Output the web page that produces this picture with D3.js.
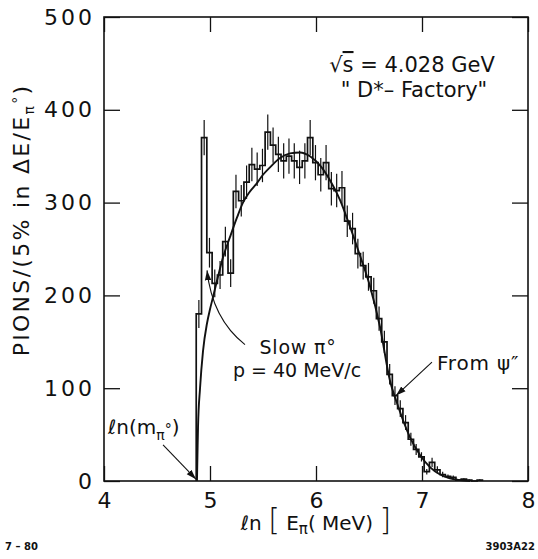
<!DOCTYPE html>
<html lang="en">
<head>
	<meta charset="UTF-8">
	<title>Pion spectrum</title>
	<script src="https://cdn.jsdelivr.net/npm/d3@7"></script>
	<style>
		html, body{
			margin: 0;
			padding: 0;
			background: #fff;
		}
		svg{
			display: block;
			font-family: "DejaVu Sans", sans-serif;
		}
	</style>
</head>
<body>
	<div class="chart"></div>
	<script>
		// histogram: bin centres in ln(E), counts and errors
		var binCenters = [4.895, 4.945, 4.995, 5.045, 5.095, 5.145, 5.195, 5.245, 5.295, 5.345,
			5.395, 5.445, 5.495, 5.545, 5.595, 5.645, 5.695, 5.745, 5.795, 5.845,
			5.895, 5.945, 5.995, 6.045, 6.095, 6.145, 6.195, 6.245, 6.295, 6.345,
			6.395, 6.445, 6.495, 6.545, 6.595, 6.645, 6.695, 6.745, 6.795, 6.845,
			6.895, 6.945, 6.995, 7.045, 7.095, 7.145, 7.195, 7.245, 7.295, 7.345,
			7.395, 7.445, 7.495, 7.545];
		var binWidth = 0.05;
		var counts = [180, 370, 246, 213, 222, 258, 224, 312, 302, 322,
			341, 336, 340, 376, 362, 352, 345, 350, 345, 338,
			345, 370, 343, 330, 343, 315, 313, 316, 280, 272,
			245, 232, 220, 205, 175, 150, 115, 92, 78, 63,
			45, 34, 26, 10, 20, 12, 7, 5, 4, 1,
			2, 1, 0, 1];
		var errors = [15, 19, 16, 15, 15, 16, 15, 18, 17, 18,
			18, 18, 18, 19, 19, 19, 19, 19, 19, 18,
			19, 19, 19, 18, 19, 18, 18, 18, 17, 17,
			16, 15, 15, 14, 13, 12, 11, 10, 9, 8,
			7, 6, 5, 3, 5, 4, 3, 2, 2, 1,
			1, 1, 0, 1];

		// fitted curve
		var fitLnE = [4.877, 4.882, 4.887, 4.906, 4.934, 4.972, 5.000, 5.028, 5.075, 5.123,
			5.189, 5.255, 5.311, 5.377, 5.443, 5.500, 5.566, 5.660, 5.755, 5.849,
			5.943, 6.038, 6.132, 6.226, 6.321, 6.415, 6.509, 6.604, 6.698, 6.764,
			6.887, 6.981, 7.075, 7.170, 7.264, 7.358, 7.453];
		var fitCounts = [0, 30, 58, 100, 140, 170, 185, 198, 220, 241,
			263, 284, 300, 312, 321, 330, 338, 348, 353, 354,
			350, 340, 324, 303, 274, 243, 210, 166, 108, 84,
			47, 28, 15, 7, 3, 1, 0];

		var xTicks = [4, 5, 6, 7, 8];
		var yTicks = [0, 100, 200, 300, 400, 500];

		var width = 538;
		var height = 559;

		var xScale = d3.scaleLinear().domain([4, 8]).range([104, 528]);
		var yScale = d3.scaleLinear().domain([0, 500]).range([481, 17]);

		var svg = d3.select('.chart')
			.append('svg')
			.attr('width', width)
			.attr('height', height);

		svg.append('defs').append('marker')
			.attr('id', 'arrow')
			.attr('viewBox', '0 0 10 10')
			.attr('refX', 10)
			.attr('refY', 5)
			.attr('markerWidth', 10)
			.attr('markerHeight', 10)
			.attr('markerUnits', 'userSpaceOnUse')
			.attr('orient', 'auto')
			.append('path')
			.attr('d', 'M0,1.8 L10,5 L0,8.2 Z')
			.attr('fill', '#111');

		// axes, ticks pointing inward
		var yLeft = d3.axisLeft(yScale).tickValues(yTicks).tickSizeInner(-16).tickSizeOuter(0).tickPadding(9);
		var yRight = d3.axisRight(yScale).tickValues(yTicks).tickSizeInner(-16).tickSizeOuter(0).tickFormat('');
		var xBottom = d3.axisBottom(xScale).tickValues(xTicks).tickSizeInner(-15).tickSizeOuter(0).tickPadding(11)
			.tickFormat(d3.format('d'));
		var xTop = d3.axisTop(xScale).tickValues(xTicks).tickSizeInner(-15).tickSizeOuter(0).tickFormat('');

		function styleAxis(g){
			g.select('.domain').remove();
			g.selectAll('line').attr('stroke', '#111').attr('stroke-width', 1.3);
			g.selectAll('text')
				.attr('fill', '#111')
				.attr('font-size', 22)
				.attr('letter-spacing', 3)
				.attr('font-family', '"DejaVu Sans", sans-serif');
		}

		svg.append('g').attr('transform', 'translate(' + xScale(4) + ',0)').call(yLeft).call(styleAxis);
		svg.append('g').attr('transform', 'translate(' + xScale(8) + ',0)').call(yRight).call(styleAxis);
		svg.append('g').attr('transform', 'translate(0,' + yScale(0) + ')').call(xBottom).call(styleAxis)
			.selectAll('text').attr('letter-spacing', 0);
		svg.append('g').attr('transform', 'translate(0,' + yScale(500) + ')').call(xTop).call(styleAxis);

		svg.append('rect')
			.attr('x', xScale(4))
			.attr('y', yScale(500))
			.attr('width', xScale(8) - xScale(4))
			.attr('height', yScale(0) - yScale(500))
			.attr('fill', 'none')
			.attr('stroke', '#111')
			.attr('stroke-width', 1.6);

		// histogram outline
		var steps = [[binCenters[0] - binWidth / 2, 0]];
		binCenters.forEach(function(c, i){
			steps.push([c - binWidth / 2, counts[i]]);
			steps.push([c + binWidth / 2, counts[i]]);
		});
		steps.push([binCenters[binCenters.length - 1] + binWidth / 2, 0]);

		var line = d3.line()
			.x(function(d){ return xScale(d[0]); })
			.y(function(d){ return yScale(d[1]); });

		svg.append('path')
			.attr('d', line(steps))
			.attr('fill', 'none')
			.attr('stroke', '#111')
			.attr('stroke-width', 1.7);

		// error bars
		svg.append('g')
			.selectAll('line')
			.data(binCenters)
			.enter()
			.append('line')
			.attr('x1', function(d){ return xScale(d); })
			.attr('x2', function(d){ return xScale(d); })
			.attr('y1', function(d, i){ return yScale(counts[i] - errors[i]); })
			.attr('y2', function(d, i){ return yScale(counts[i] + errors[i]); })
			.attr('stroke', '#111')
			.attr('stroke-width', 1.2);

		// fit
		var fitLine = d3.line()
			.x(function(d, i){ return xScale(fitLnE[i]); })
			.y(function(d){ return yScale(d); })
			.curve(d3.curveMonotoneX);

		svg.append('path')
			.attr('d', fitLine(fitCounts))
			.attr('fill', 'none')
			.attr('stroke', '#111')
			.attr('stroke-width', 1.9);

		// annotations
		var ann = svg.append('g').attr('fill', '#111').attr('font-family', '"DejaVu Sans", sans-serif');

		var t1 = ann.append('text').attr('x', 412).attr('y', 72).attr('text-anchor', 'middle').attr('font-size', 21);
		t1.append('tspan').text('\u221A');
		t1.append('tspan').attr('text-decoration', 'overline').text('s');
		t1.append('tspan').text(' = 4.028 GeV');
		ann.append('text').attr('x', 414).attr('y', 97).attr('text-anchor', 'middle').attr('font-size', 21)
			.text('" D*\u2013 Factory"');

		ann.append('text').attr('x', 298).attr('y', 354).attr('text-anchor', 'middle').attr('font-size', 19)
			.attr('letter-spacing', 0.8)
			.text('Slow \u03C0\u00B0');
		ann.append('text').attr('x', 297).attr('y', 377).attr('text-anchor', 'middle').attr('font-size', 19)
			.text('p = 40 MeV/c');

		svg.append('path')
			.attr('d', 'M' + xScale(5.33) + ',' + yScale(147) + ' Q' + xScale(5.02) + ',' + yScale(175) + ' ' + xScale(4.972) + ',' + yScale(227))
			.attr('fill', 'none')
			.attr('stroke', '#111')
			.attr('stroke-width', 1.1)
			.attr('marker-end', 'url(#arrow)');

		var t2 = ann.append('text').attr('x', 108).attr('y', 434).attr('font-size', 20);
		t2.append('tspan').text('\u2113n(m');
		t2.append('tspan').attr('dy', 6).attr('font-size', 14).text('\u03C0');
		t2.append('tspan').attr('dy', -6).attr('font-size', 14).text('\u00B0');
		t2.append('tspan').attr('dy', 0).text(')');

		svg.append('line')
			.attr('x1', xScale(4.557)).attr('y1', yScale(39))
			.attr('x2', xScale(4.868)).attr('y2', yScale(2))
			.attr('stroke', '#111')
			.attr('stroke-width', 1.1)
			.attr('marker-end', 'url(#arrow)');

		ann.append('text').attr('x', 437).attr('y', 370).attr('font-size', 20).attr('letter-spacing', 0.8)
			.text('From \u03C8\u2033');

		svg.append('line')
			.attr('x1', xScale(7.094)).attr('y1', yScale(128))
			.attr('x2', xScale(6.755)).attr('y2', yScale(92))
			.attr('stroke', '#111')
			.attr('stroke-width', 1.1)
			.attr('marker-end', 'url(#arrow)');

		// axis titles
		var yt = ann.append('text')
			.attr('transform', 'translate(29,220) rotate(-90)')
			.attr('text-anchor', 'middle')
			.attr('font-size', 22)
			.attr('letter-spacing', 2.3);
		yt.append('tspan').text('PIONS/(5% in \u0394E/E');
		yt.append('tspan').attr('dy', 5).attr('font-size', 14).text('\u03C0');
		yt.append('tspan').attr('dy', -11).attr('font-size', 14).text('\u00B0');
		yt.append('tspan').attr('dy', 6).text(')');

		var xt = ann.append('text').attr('x', 316).attr('y', 530).attr('text-anchor', 'middle').attr('font-size', 20);
		xt.append('tspan').text('\u2113n ');
		xt.append('tspan').attr('font-size', 30).attr('font-weight', 200).text('[');
		xt.append('tspan').text(' E');
		xt.append('tspan').attr('dy', 4).attr('font-size', 15).text('\u03C0');
		xt.append('tspan').attr('dy', -4).text('( MeV) ');
		xt.append('tspan').attr('font-size', 30).attr('font-weight', 200).text(']');

		ann.append('text').attr('x', 5).attr('y', 550).attr('font-size', 10).attr('font-weight', 'bold').text('7 \u2013 80');
		ann.append('text').attr('x', 535).attr('y', 550).attr('text-anchor', 'end').attr('font-size', 10).attr('font-weight', 'bold').text('3903A22');
	</script>
</body>
</html>
